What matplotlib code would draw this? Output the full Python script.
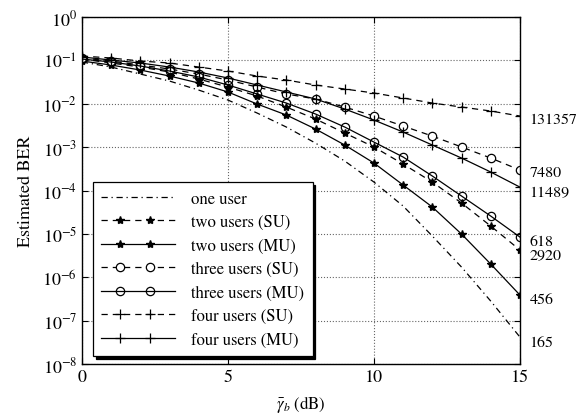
import matplotlib
matplotlib.use("Agg")
import matplotlib.pyplot as plt
from matplotlib.legend_handler import HandlerLine2D
from matplotlib.lines import Line2D

plt.rcParams['font.family'] = ['STIXGeneral', 'DejaVu Serif']
plt.rcParams['mathtext.fontset'] = 'stix'

snr_db = list(range(16))

one_user = [0.0918, 0.0703, 0.0485, 0.0334, 0.0207, 0.0122, 0.00612, 0.00291, 0.00124, 4.79e-4,
            1.57e-4, 4.39e-5, 8.93e-6, 1.72e-6, 2.83e-7, 4.19e-8]
two_su = [0.1076, 0.0870, 0.0703, 0.0540, 0.0372, 0.0243, 0.0151, 0.00841, 0.00445, 0.00212,
          0.00101, 4.08e-4, 1.57e-4, 5.15e-5, 1.52e-5, 4.25e-6]
two_mu = [0.0968, 0.0782, 0.0600, 0.0436, 0.0301, 0.0187, 0.00987, 0.00551, 0.00262, 0.00112,
          4.31e-4, 1.34e-4, 4.17e-5, 9.93e-6, 2.02e-6, 3.90e-7]
three_su = [0.1135, 0.0968, 0.0782, 0.0633, 0.0485, 0.0353, 0.0243, 0.0168, 0.0129, 0.00841,
            0.00522, 0.00307, 0.00180, 0.00101, 5.61e-4, 2.97e-4]
three_mu = [0.1076, 0.0918, 0.0742, 0.0569, 0.0414, 0.0271, 0.0168, 0.0104, 0.00581, 0.00291,
            0.00131, 5.92e-4, 2.16e-4, 7.47e-5, 2.58e-5, 8.47e-6]
four_su = [0.126, 0.1135, 0.0968, 0.0870, 0.0703, 0.0569, 0.0436, 0.0353, 0.0271, 0.0219,
           0.0177, 0.0136, 0.0104, 0.00841, 0.00681, 0.00522]
four_mu = [0.120, 0.102, 0.0870, 0.0703, 0.0540, 0.0393, 0.0271, 0.0187, 0.0129, 0.00757,
           0.00422, 0.00223, 0.00112, 5.61e-4, 2.67e-4, 1.20e-4]

end_labels = ['131357', '7480', '11489', '618', '2920', '456', '165']
end_label_y = [4.45e-3, 2.67e-4, 9.2e-5, 6.85e-6, 3.44e-6, 3.15e-7, 3.2e-8]

x_ticks = [0, 5, 10, 15]


class InsetMarkerHandler(HandlerLine2D):
    """Legend handle: full-width line, two markers placed inside it."""
    def create_artists(self, legend, orig_handle, xdescent, ydescent,
                       width, height, fontsize, trans):
        y = (height - ydescent) / 2
        x0 = -xdescent
        line = Line2D([x0, x0 + width], [y, y])
        self.update_prop(line, orig_handle, legend)
        line.set_marker('None')
        mk = Line2D([x0 + 0.26 * width, x0 + 0.67 * width], [y, y])
        self.update_prop(mk, orig_handle, legend)
        mk.set_linestyle('None')
        line.set_transform(trans)
        mk.set_transform(trans)
        return [line, mk]


fig = plt.figure(figsize=(5.81, 4.14), dpi=100)
ax = fig.add_axes([0.141, 0.118, 0.754, 0.8385])

lw = 0.9
dash = (0, (5, 4))
dashdot = (0, (5, 3, 1, 3))

ax.semilogy(snr_db, one_user, color='k', lw=lw, ls=dashdot, label='one user')
ax.semilogy(snr_db, two_su, color='k', lw=lw, ls=dash, marker='*', ms=6, label='two users (SU)')
ax.semilogy(snr_db, two_mu, color='k', lw=lw, ls='-', marker='*', ms=6, label='two users (MU)')
ax.semilogy(snr_db, three_su, color='k', lw=lw, ls=dash, marker='o', ms=6, mfc='white', mew=0.9,
            label='three users (SU)')
ax.semilogy(snr_db, three_mu, color='k', lw=lw, ls='-', marker='o', ms=6, mfc='none', mew=0.9,
            label='three users (MU)')
ax.semilogy(snr_db, four_su, color='k', lw=lw, ls=dash, marker='+', ms=7, mew=0.9, label='four users (SU)')
ax.semilogy(snr_db, four_mu, color='k', lw=lw, ls='-', marker='+', ms=7, mew=0.9, label='four users (MU)')

ax.set_xlim(0, 15)
ax.set_ylim(1e-8, 1)
ax.set_xticks(x_ticks)
ax.set_yticks([10.0 ** k for k in range(-8, 1)])
ax.minorticks_off()
ax.tick_params(direction='in', top=True, right=True, labelsize=13, length=4)
ax.grid(True, which='major', ls=':', color='0.4', lw=0.8)
for s in ax.spines.values():
    s.set_linewidth(1.0)

ax.set_ylabel('Estimated BER', fontsize=13, labelpad=6)
ax.set_xlabel(r'$\bar{\gamma}_b$ (dB)', fontsize=12, labelpad=6)

for txt, yv in zip(end_labels, end_label_y):
    ax.annotate(txt, xy=(15, yv), xytext=(7, 0), textcoords='offset points',
                va='center', ha='left', fontsize=11.5, annotation_clip=False)

leg = ax.legend(loc='lower left', bbox_to_anchor=(0.025, 0.023), borderaxespad=0,
                fontsize=12, handlelength=4.4, handletextpad=1.0, labelspacing=0.45,
                borderpad=0.5, fancybox=False, framealpha=1, edgecolor='k',
                shadow={'color': 'k', 'alpha': 1},
                handler_map={Line2D: InsetMarkerHandler()})
leg.get_frame().set_linewidth(0.9)

fig.savefig('out.png', dpi=100)
